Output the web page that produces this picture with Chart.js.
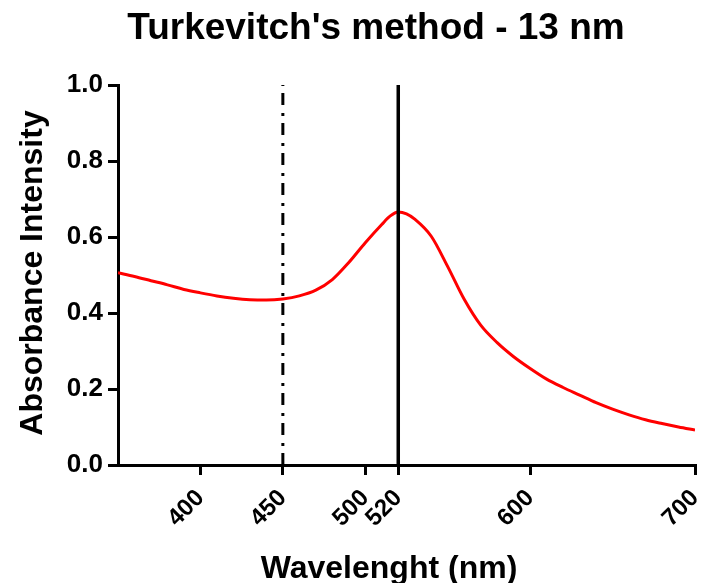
<!DOCTYPE html>
<html>
<head>
<meta charset="utf-8">
<script src="https://cdn.jsdelivr.net/npm/chart.js@4.4.1/dist/chart.umd.min.js"></script>
<style>
  html, body { margin: 0; padding: 0; background: #fff; }
  #wrap { width: 705px; height: 583px; }
</style>
</head>
<body>
<div id="wrap"><canvas id="uvChart" width="705" height="583"></canvas></div>
<script>
// UV-Vis spectrum of gold nanoparticles (Turkevitch synthesis)
const wavelengths = [350, 360, 370, 380, 390, 400, 410, 420, 430, 440, 450, 460, 470, 480, 490,
  500, 510, 515, 520, 525, 530, 540, 550, 560, 570, 580, 590, 600, 610, 620, 630, 640, 650,
  660, 670, 680, 690, 700];
const absorbance = [0.506, 0.496, 0.485, 0.474, 0.462, 0.453, 0.445, 0.439, 0.435, 0.434, 0.437,
  0.445, 0.460, 0.488, 0.533, 0.585, 0.633, 0.655, 0.666, 0.661, 0.647, 0.602, 0.522, 0.436,
  0.368, 0.322, 0.285, 0.254, 0.226, 0.204, 0.184, 0.164, 0.147, 0.132, 0.119, 0.109, 0.100, 0.092];
const xTicks = [400, 450, 500, 520, 600, 700];
const refDashDot = 450;
const refSolid = 520;

const titleText = "Turkevitch's method - 13 nm";
const xTitle = 'Wavelenght (nm)';
const yTitle = 'Absorbance Intensity';
const FONT = '"Liberation Sans", Arial, sans-serif';

const spectrum = wavelengths.map((w, i) => ({ x: w, y: absorbance[i] }));
const vline = (w) => [{ x: w, y: 0 }, { x: w, y: 1 }];

// titles drawn by hand so they can sit off the plot centre
const titles = {
  id: 'titles',
  afterDraw(chart) {
    const ctx = chart.ctx;
    ctx.save();
    ctx.fillStyle = '#000';
    ctx.textAlign = 'center';
    ctx.textBaseline = 'alphabetic';
    ctx.font = 'bold 37px ' + FONT;
    ctx.fillText(titleText, 376, 39);
    ctx.font = 'bold 32px ' + FONT;
    ctx.fillText(xTitle, 389, 578);
    ctx.translate(42, 273);
    ctx.rotate(-Math.PI / 2);
    ctx.fillText(yTitle, 0, 0);
    ctx.restore();
  }
};

const axisStyle = {
  grid: { display: true, drawOnChartArea: false, drawTicks: true, tickLength: 10, lineWidth: 3, color: '#000' },
  border: { display: true, width: 3, color: '#000' }
};

new Chart(document.getElementById('uvChart'), {
  type: 'line',
  data: {
    datasets: [
      {
        data: vline(refDashDot),
        borderColor: '#000',
        borderWidth: 3,
        borderDash: [12, 7, 3, 8],
        pointRadius: 0,
        order: 0
      },
      {
        data: vline(refSolid),
        borderColor: '#000',
        borderWidth: 3.5,
        pointRadius: 0,
        order: 0
      },
      {
        data: spectrum,
        borderColor: '#ff0000',
        borderWidth: 3,
        pointRadius: 0,
        cubicInterpolationMode: 'monotone',
        order: 1
      }
    ]
  },
  options: {
    responsive: false,
    animation: false,
    layout: { padding: { top: 85, right: 10, left: 0, bottom: 0 } },
    plugins: { legend: { display: false }, tooltip: { enabled: false } },
    scales: {
      x: {
        type: 'linear',
        min: 350,
        max: 700,
        ...axisStyle,
        afterBuildTicks: (scale) => { scale.ticks = xTicks.map(v => ({ value: v })); },
        afterFit: (scale) => {
          scale.height = 118;
          scale.paddingRight = 0;
          scale.paddingLeft = 0;
        },
        ticks: {
          color: '#000',
          font: { family: FONT, size: 24, weight: 'bold' },
          minRotation: 45,
          maxRotation: 45,
          padding: 9
        }
      },
      y: {
        min: 0,
        max: 1,
        ...axisStyle,
        afterFit: (scale) => { scale.width = 118; },
        ticks: {
          color: '#000',
          stepSize: 0.2,
          padding: 5,
          font: { family: FONT, size: 26, weight: 'bold' },
          callback: (v) => v.toFixed(1)
        }
      }
    }
  },
  plugins: [titles]
});
</script>
</body>
</html>
